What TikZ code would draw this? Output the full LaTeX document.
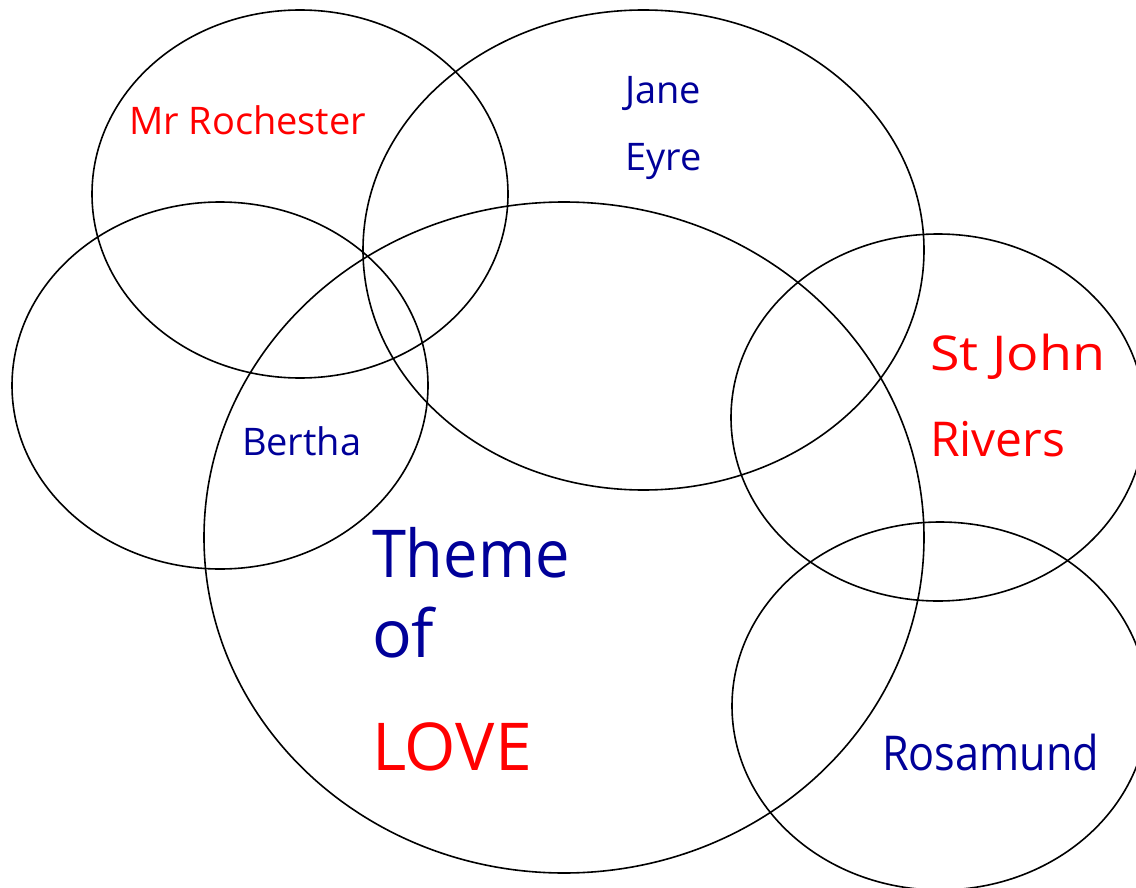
\documentclass[tikz,border=0pt]{standalone}
\usepackage{fontspec}
\setmainfont{Open Sans}
\definecolor{navy}{RGB}{0,0,153}
\definecolor{lred}{RGB}{255,0,0}
\tikzset{
  ring/.style={draw=black, line width=1.6pt},
  lbl/.style={anchor=base west, inner sep=0pt, outer sep=0pt},
  small/.style={font=\fontsize{38}{40}\selectfont},
  mid/.style={font=\fontsize{48}{50}\selectfont},
  big/.style={font=\fontsize{66}{68}\selectfont}
}
\begin{document}
\begin{tikzpicture}[x=1pt,y=-1pt]
\clip (0,0) rectangle (1136,888);
\fill[white] (0,0) rectangle (1136,888);
% ellipses
\draw[ring] (300,194) ellipse [x radius=208pt, y radius=184pt];
\draw[ring] (643.5,250) ellipse [x radius=280.5pt, y radius=240pt];
\draw[ring] (220,385.5) ellipse [x radius=208pt, y radius=183.5pt];
\draw[ring] (564,537.5) ellipse [x radius=360pt, y radius=335.5pt];
\draw[ring] (938,417.5) ellipse [x radius=207pt, y radius=183.5pt];
\draw[ring] (940,706) ellipse [x radius=208pt, y radius=184pt];
% labels
\node[lbl, small, text=lred] (roch) at (129,135) {Mr Rochester};
\node[lbl, small, text=navy] (jane) at (625,104) {Jane};
\node[lbl, small, text=navy] (eyre) at (625,171) {Eyre};
\node[lbl, small, text=navy] (bertha) at (242,455) {Bertha};
\node[lbl, mid, text=lred, xscale=1.12] (stjohn) at (930,370) {St John};
\node[lbl, mid, text=lred] (rivers) at (930,456) {Rivers};
\node[lbl, mid, text=navy, xscale=0.9] (rosa) at (882,770) {Rosamund};
\node[lbl, big, text=navy, xscale=0.93] (theme) at (372,577) {Theme};
\node[lbl, big, text=navy] (of) at (372,657) {of};
\node[lbl, big, text=lred] (love) at (372,770) {LOVE};
\end{tikzpicture}
\end{document}
